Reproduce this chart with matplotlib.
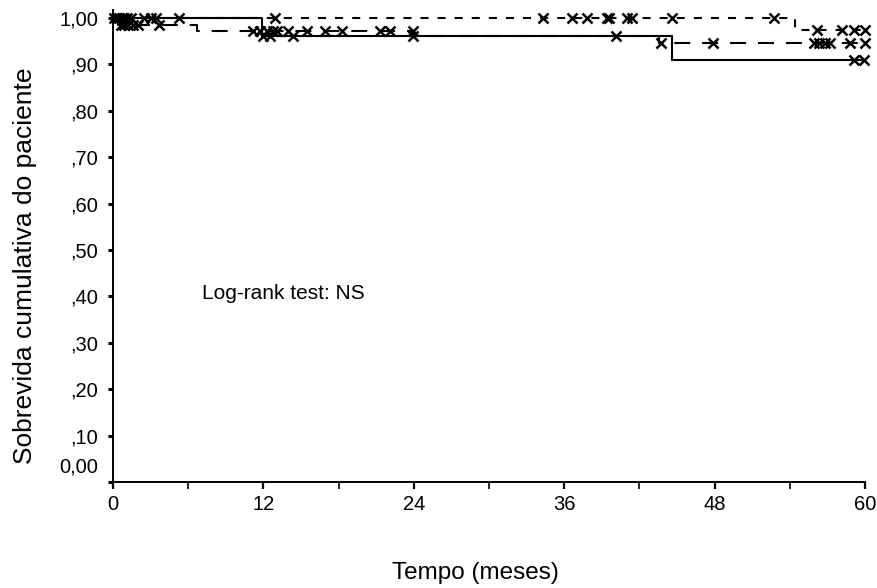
import numpy as np
import matplotlib.pyplot as plt

plt.rcParams['font.family'] = ['Liberation Sans', 'DejaVu Sans']
plt.rcParams['lines.scale_dashes'] = False

T_MAX = 60

# grupo 1: linha continua
g1_tempo = [0, 11.9, 44.6]
g1_sobrev = [1.0, 0.962, 0.909]
g1_cens = [0.3, 0.7, 1.1, 12.0, 12.5, 14.4, 23.9, 40.1, 59.1, 59.9]

# grupo 2: tracejado curto
g2_tempo = [0, 54.4]
g2_sobrev = [1.0, 0.974]
g2_cens = [0.1, 0.5, 0.9, 1.4, 2.5, 3.0, 3.4, 5.3, 12.9, 34.3, 36.6, 37.8,
           39.4, 39.6, 41.0, 41.4, 44.6, 52.7, 56.2, 58.2, 59.1, 60.0]

# grupo 3: tracejado longo
g3_tempo = [0, 0.4, 6.7, 24.0, 43.6]
g3_sobrev = [1.0, 0.985, 0.972, 0.962, 0.946]
g3_cens = [0.6, 0.9, 1.2, 1.6, 2.0, 3.7, 11.2, 11.7, 12.3, 12.8, 13.1, 14.0,
           15.5, 16.9, 18.3, 21.3, 22.1, 23.9, 43.7, 47.9, 55.9, 56.3, 56.8,
           57.2, 58.8, 60.0]

x_ticks = [0, 12, 24, 36, 48, 60]
y_ticks = [0.0, 0.1, 0.2, 0.3, 0.4, 0.5, 0.6, 0.7, 0.8, 0.9, 1.0]
y_labels = ['', ',10', ',20', ',30', ',40', ',50', ',60', ',70', ',80', ',90', '1,00']


def surv_at(tempo, sobrev, t):
    idx = np.searchsorted(tempo, t, side='right') - 1
    return np.array(sobrev)[idx]


fig = plt.figure(figsize=(8.77, 5.88), dpi=100)
ax = fig.add_axes([113 / 877, 1 - 482 / 588, 752 / 877, 472 / 588])

grupos = [
    (g1_tempo, g1_sobrev, g1_cens, '-'),
    (g2_tempo, g2_sobrev, g2_cens, (0, (5.8, 6.5))),
    (g3_tempo, g3_sobrev, g3_cens, (0, (11.5, 8.6))),
]
for tempo, sobrev, cens, ls in grupos:
    xs = np.append(tempo, T_MAX)
    ys = np.append(sobrev, sobrev[-1])
    ax.step(xs, ys, where='post', color='black', lw=1.5, linestyle=ls, clip_on=False)
    cy = surv_at(tempo, sobrev, np.array(cens))
    ax.plot(cens, cy, linestyle='none', marker='x', color='black', ms=7.5,
            mew=1.8, clip_on=False)

ax.set_xlim(0, T_MAX)
ax.set_ylim(0, 472 / 464)

ax.spines['top'].set_visible(False)
ax.spines['right'].set_visible(False)
ax.spines['left'].set_linewidth(1.4)
ax.spines['bottom'].set_linewidth(1.4)

ax.set_xticks(x_ticks)
ax.set_xticks([6, 18, 30, 42, 54], minor=True)
ax.set_yticks(y_ticks)
ax.set_yticklabels(y_labels)
ax.tick_params(axis='x', which='major', length=5, width=1.6, labelsize=14.5, pad=4)
ax.tick_params(axis='x', which='minor', length=5, width=1.2)
ax.tick_params(axis='y', length=3.6, width=2.2, labelsize=14.5, pad=7)

# o rotulo 0,00 fica um pouco acima do canto
ax.annotate('0,00', xy=(0, 0), xycoords=('axes fraction', 'data'),
            xytext=(-11, 10.5), textcoords='offset points',
            ha='right', va='center', fontsize=14.5)

ax.text(7.1, 0.407, 'Log-rank test: NS', fontsize=15, ha='left', va='center')

ax.set_xlabel('Tempo (meses)', fontsize=17.5)
ax.xaxis.label.set_va('center')
ax.xaxis.set_label_coords((475 - 113) / 752, (482 - 573) / 472)
ax.set_ylabel('Sobrevida cumulativa do paciente', fontsize=19)
ax.yaxis.label.set_va('center')
ax.yaxis.set_label_coords((25 - 113) / 752, (482 - 266) / 472)

fig.savefig('out.png', dpi=100)
